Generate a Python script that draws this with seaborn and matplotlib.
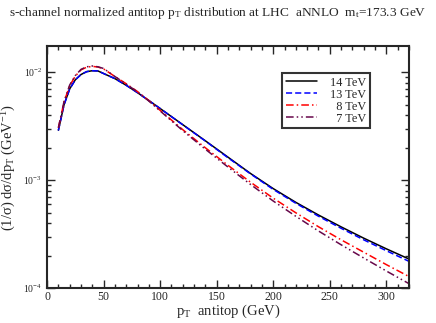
"""Normalized antitop pT distribution, s-channel, aNNLO."""

import matplotlib
matplotlib.use("Agg")
import matplotlib.pyplot as plt
import matplotlib.ticker as mticker
import pandas as pd
import seaborn as sns

# pT grid (GeV) and distributions
pt = [10, 15, 20, 25, 30, 35, 40, 45, 50, 60, 70, 80, 90, 100,
      120, 140, 160, 180, 200, 220, 240, 260, 280, 300, 320]
tev14 = [2.9e-3, 5.0e-3, 7.0e-3, 8.5e-3, 9.5e-3, 1.01e-2, 1.03e-2, 1.025e-2, 9.7e-3,
         8.7e-3, 7.55e-3, 6.45e-3, 5.45e-3, 4.6e-3, 3.26e-3, 2.31e-3, 1.63e-3,
         1.15e-3, 8.34e-4, 6.22e-4, 4.75e-4, 3.69e-4, 2.9e-4, 2.31e-4, 1.86e-4]
tev13 = [2.88e-3, 4.98e-3, 6.98e-3, 8.5e-3, 9.5e-3, 1.01e-2, 1.03e-2, 1.025e-2, 9.7e-3,
         8.7e-3, 7.55e-3, 6.45e-3, 5.45e-3, 4.6e-3, 3.25e-3, 2.3e-3, 1.61e-3,
         1.14e-3, 8.2e-4, 6.1e-4, 4.63e-4, 3.58e-4, 2.8e-4, 2.22e-4, 1.77e-4]
tev8 = [3.05e-3, 5.3e-3, 7.5e-3, 9.2e-3, 1.05e-2, 1.11e-2, 1.13e-2, 1.115e-2, 1.07e-2,
        9.1e-3, 7.8e-3, 6.6e-3, 5.45e-3, 4.42e-3, 2.93e-3, 1.99e-3, 1.37e-3,
        9.55e-4, 6.8e-4, 4.98e-4, 3.7e-4, 2.8e-4, 2.15e-4, 1.65e-4, 1.28e-4]
tev7 = [3.05e-3, 5.35e-3, 7.6e-3, 9.3e-3, 1.06e-2, 1.12e-2, 1.14e-2, 1.12e-2, 1.08e-2,
        9.1e-3, 7.75e-3, 6.55e-3, 5.4e-3, 4.37e-3, 2.87e-3, 1.93e-3, 1.32e-3,
        9.1e-4, 6.4e-4, 4.62e-4, 3.38e-4, 2.52e-4, 1.9e-4, 1.44e-4, 1.1e-4]
labels = ["14 TeV", "13 TeV", "8 TeV", "7 TeV"]

frames = []
for name, vals in zip(labels, [tev14, tev13, tev8, tev7]):
    frames.append(pd.DataFrame({"pt": pt, "val": vals, "energy": name}))
df = pd.concat(frames, ignore_index=True)

sns.set_theme(style="ticks")
plt.rcParams["font.family"] = ["Liberation Serif", "DejaVu Serif"]
plt.rcParams["mathtext.fontset"] = "custom"
plt.rcParams["mathtext.rm"] = "Liberation Serif"
plt.rcParams["mathtext.it"] = "Liberation Serif:italic"

palette = {"14 TeV": "black", "13 TeV": "#0000ff", "8 TeV": "#ff0000", "7 TeV": "#67074a"}
dashes = {"14 TeV": "", "13 TeV": (4, 2), "8 TeV": (5, 2, 1, 2), "7 TeV": (5, 2, 1, 2, 1, 2)}

fig = plt.figure(figsize=(4.36, 3.23), dpi=100)
ax = fig.add_axes([0.108, 0.108, 0.83, 0.75])
sns.lineplot(data=df, x="pt", y="val", hue="energy", style="energy",
             palette=palette, dashes=dashes, linewidth=1.1, ax=ax, legend=False)

ax.set_yscale("log")
ax.set_xlim(0, 320)
ax.set_ylim(1e-4, 1.75e-2)
ax.xaxis.set_major_locator(mticker.MultipleLocator(50))
ax.xaxis.set_minor_locator(mticker.MultipleLocator(10))
ax.tick_params(which="both", direction="in", top=True, right=True, labelsize=8.5)
ax.tick_params(which="major", length=6, width=1)
ax.tick_params(which="minor", length=3, width=1)
ax.tick_params(axis="y", labelsize=7)
ax.tick_params(axis="x", pad=2)
for sp in ax.spines.values():
    sp.set_linewidth(1.5)

ax.set_xlabel("p$_\\mathrm{T}$  antitop (GeV)", fontsize=10.5, labelpad=0)
ax.set_ylabel("(1/σ) dσ/dp$_\\mathrm{T}$ (GeV$^{-1}$)", fontsize=10.5, labelpad=4)
fig.suptitle("s-channel normalized antitop p$_\\mathrm{T}$ distribution at LHC  aNNLO  m$_\\mathrm{t}$=173.3 GeV",
             fontsize=9.6, y=0.985)

# pad single-digit labels with spaces so the text column lines up on the right
leg_labels = ["14 TeV", "13 TeV", "  8 TeV", "  7 TeV"]
handles = [plt.Line2D([], [], color=palette[k], linewidth=1.1,
                      dashes=dashes[k] if dashes[k] else (None, None)) for k in labels]
leg = ax.legend(handles, leg_labels, loc="upper left", bbox_to_anchor=(0.649, 0.888),
                borderaxespad=0, fontsize=8.8, frameon=True, fancybox=False,
                edgecolor="black", handlelength=2.6, borderpad=0.3,
                labelspacing=0.0, handletextpad=1.0)
leg.get_frame().set_linewidth(1.5)

fig.savefig("out.png", dpi=100)
plt.close(fig)
